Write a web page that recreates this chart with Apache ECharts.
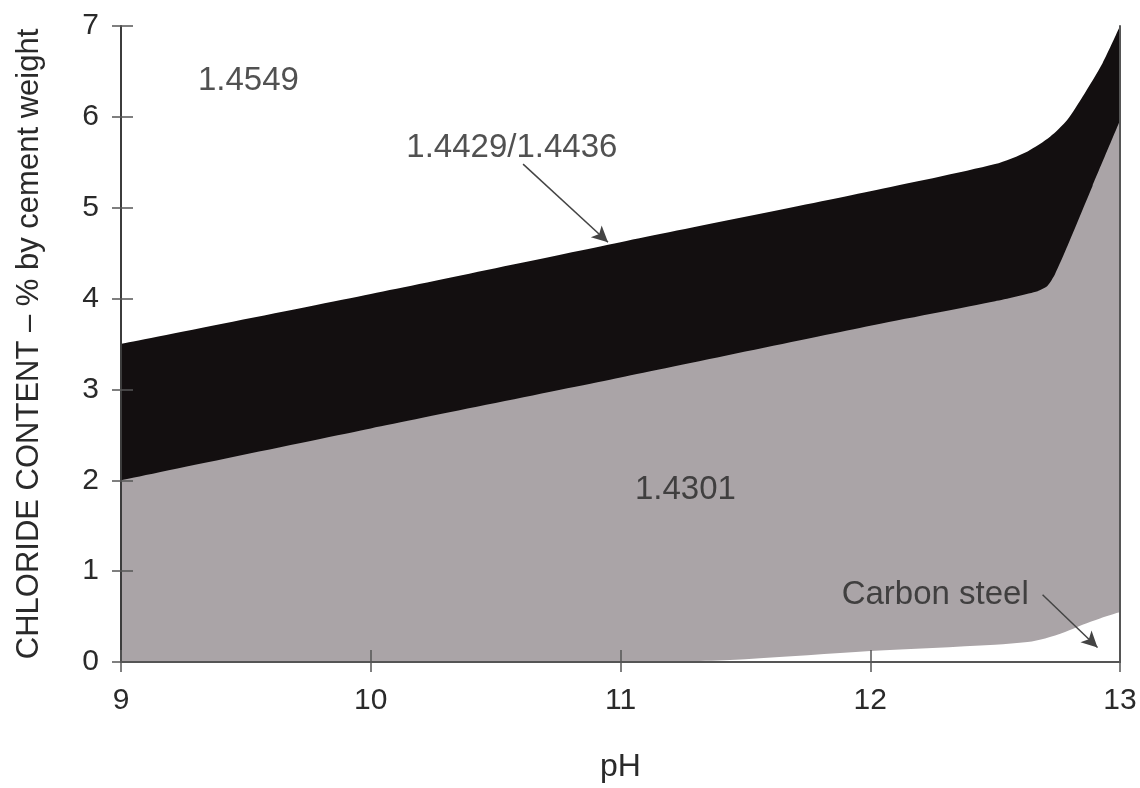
<!DOCTYPE html>
<html>
<head>
<meta charset="utf-8">
<script src="https://cdn.jsdelivr.net/npm/echarts@6/dist/echarts.min.js"></script>
<style>
html,body{margin:0;padding:0;background:#fff;}
#chart{width:1140px;height:788px;}
</style>
</head>
<body>
<div id="chart"></div>
<script>
// pH axis ticks and chloride axis ticks
const xTicks = [9, 10, 11, 12, 13];
const yTicks = [0, 1, 2, 3, 4, 5, 6, 7];

// Upper boundary of the 1.4429/1.4436 (black) region: [pH, chloride %]
const upperBoundary = [[9, 3.5], [10, 4.05], [11, 4.62], [12, 5.18], [12.5, 5.48], [12.63, 5.62], [12.72, 5.78], [12.79, 5.97], [12.85, 6.22], [12.93, 6.59], [13, 7.0]];
// Upper boundary of the 1.4301 (grey) region
const lowerBoundary = [[9, 2.0], [10, 2.57], [11, 3.13], [12, 3.7], [12.5, 3.97], [12.67, 4.08], [12.71, 4.14], [12.74, 4.27], [12.79, 4.58], [12.89, 5.24], [13, 5.96]];
// Carbon steel boundary (white region at bottom)
const carbonBoundary = [[11.2, 0], [11.5, 0.03], [12, 0.12], [12.5, 0.19], [12.63, 0.22], [12.7, 0.26], [12.78, 0.33], [12.85, 0.41], [12.92, 0.48], [13, 0.55]];

// Region labels
const labelNames = ['1.4549', '1.4429/1.4436', '1.4301', 'Carbon steel'];
const labelPos = [[9.51, 6.4], [10.565, 5.66], [11.26, 1.89], [12.26, 0.74]];
// Arrows: [start, end]
const arrows = [[[10.61, 5.48], [10.95, 4.62]], [[12.69, 0.74], [12.91, 0.16]]];

const chart = echarts.init(document.getElementById('chart'));
const FONT = 'Liberation Sans';
const TXT = '#2a2a2a';
const LINE = '#3c3c3c';

const baseAxis = {
  type: 'value', splitLine: {show: false}, z: 10
};

const option = {
  animation: false,
  backgroundColor: '#ffffff',
  grid: {left: 121, right: 20, top: 26, bottom: 123, show: false},
  xAxis: [
    Object.assign({}, baseAxis, {
      position: 'bottom', min: 9, max: 13, interval: 1,
      name: 'pH', nameLocation: 'middle', nameGap: 89,
      nameTextStyle: {fontFamily: FONT, fontSize: 32, color: TXT},
      axisLine: {show: true, lineStyle: {color: LINE, width: 2}},
      axisTick: {show: true, inside: false, length: 10, lineStyle: {color: '#555', width: 1.5}},
      axisLabel: {show: true, margin: 24, fontFamily: FONT, fontSize: 30, color: TXT,
        formatter: v => xTicks.includes(v) ? String(v) : ''}
    }),
    Object.assign({}, baseAxis, {
      position: 'bottom', min: 9, max: 13, interval: 1,
      axisLine: {show: false},
      axisTick: {show: true, inside: true, length: 12, lineStyle: {color: '#555', width: 1.5}},
      axisLabel: {show: false}
    }),
    Object.assign({}, baseAxis, {
      position: 'top', min: 9, max: 13, interval: 1,
      axisLine: {show: true, lineStyle: {color: '#555', width: 2}},
      axisTick: {show: false}, axisLabel: {show: false}
    })
  ],
  yAxis: [
    Object.assign({}, baseAxis, {
      position: 'left', min: 0, max: 7, interval: 1,
      name: 'CHLORIDE CONTENT \u2013 % by cement weight', nameLocation: 'middle', nameGap: 76,
      nameTextStyle: {fontFamily: FONT, fontSize: 31, color: TXT},
      axisLine: {show: true, lineStyle: {color: LINE, width: 2}},
      axisTick: {show: true, inside: false, length: 9, lineStyle: {color: '#555', width: 1.5}},
      axisLabel: {show: true, margin: 22, fontFamily: FONT, fontSize: 30, color: TXT,
        formatter: v => yTicks.includes(v) ? String(v) : ''}
    }),
    Object.assign({}, baseAxis, {
      position: 'left', min: 0, max: 7, interval: 1,
      axisLine: {show: false},
      axisTick: {show: true, inside: true, length: 12, lineStyle: {color: '#555', width: 1.5}},
      axisLabel: {show: false}
    }),
    Object.assign({}, baseAxis, {
      position: 'right', min: 0, max: 7, interval: 1,
      axisLine: {show: true, lineStyle: {color: '#555', width: 2}},
      axisTick: {show: false}, axisLabel: {show: false}
    })
  ],
  series: [
    {
      type: 'line', name: '1.4429/1.4436', data: upperBoundary, xAxisIndex: 0, yAxisIndex: 0,
      showSymbol: false, smooth: 0.25, lineStyle: {width: 0},
      areaStyle: {color: '#130f10', opacity: 1}, z: 2
    },
    {
      type: 'line', name: '1.4301', data: lowerBoundary, xAxisIndex: 0, yAxisIndex: 0,
      showSymbol: false, smooth: 0.2, lineStyle: {width: 0},
      areaStyle: {color: '#aaa4a7', opacity: 1}, z: 3
    },
    {
      type: 'line', name: 'Carbon steel', data: carbonBoundary, xAxisIndex: 0, yAxisIndex: 0,
      showSymbol: false, smooth: 0.3, lineStyle: {width: 0},
      areaStyle: {color: '#ffffff', opacity: 1}, z: 4
    },
    {
      type: 'scatter', name: 'labels', xAxisIndex: 0, yAxisIndex: 0, z: 6,
      data: labelPos.map((p, i) => ({value: p, name: labelNames[i]})),
      symbol: 'circle', symbolSize: 1, itemStyle: {color: 'rgba(0,0,0,0)'},
      label: {show: true, position: 'inside', formatter: p => p.name,
        fontFamily: FONT, fontSize: 33, color: '#262626'},
      markLine: {
        silent: true, symbol: ['none', 'arrow'], symbolSize: [12, 16],
        lineStyle: {color: '#444', width: 1.5, type: 'solid'},
        label: {show: false},
        data: arrows.map(a => [{coord: a[0]}, {coord: a[1]}])
      }
    }
  ]
};
chart.setOption(option);
</script>
</body>
</html>
